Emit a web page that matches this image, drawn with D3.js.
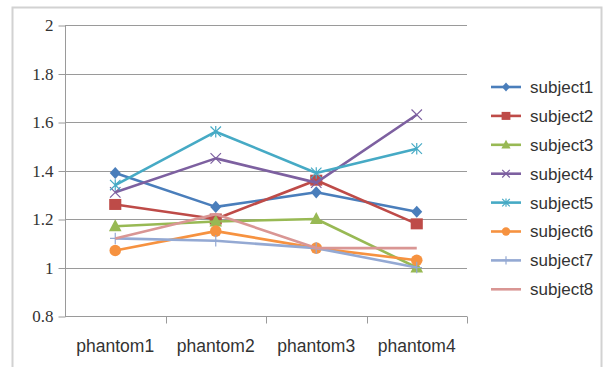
<!DOCTYPE html>
<html>
<head>
<meta charset="utf-8">
<script src="https://cdn.jsdelivr.net/npm/d3@7"></script>
<style>
  html, body { margin: 0; padding: 0; background: #fff; }
  svg { display: block; }
</style>
</head>
<body>
<svg id="chart" width="605" height="367"></svg>
<script>
// Categories, series and tick labels
const categories = ["phantom1", "phantom2", "phantom3", "phantom4"];
const seriesNames = ["subject1", "subject2", "subject3", "subject4",
                     "subject5", "subject6", "subject7", "subject8"];
const subject1 = [1.39, 1.25, 1.31, 1.23];
const subject2 = [1.26, 1.20, 1.36, 1.18];
const subject3 = [1.17, 1.19, 1.20, 1.00];
const subject4 = [1.31, 1.45, 1.35, 1.63];
const subject5 = [1.34, 1.56, 1.39, 1.49];
const subject6 = [1.07, 1.15, 1.08, 1.03];
const subject7 = [1.12, 1.11, 1.08, 1.00];
const subject8 = [1.12, 1.22, 1.08, 1.08];
const yTicks = [0.8, 1, 1.2, 1.4, 1.6, 1.8, 2];

const seriesValues = [subject1, subject2, subject3, subject4,
                      subject5, subject6, subject7, subject8];
const lineColors = ["#4A7EBB", "#BE4B48", "#98B954", "#7D60A0",
                    "#46AAC5", "#F69240", "#94A9D3", "#D99694"];
const markerKinds = ["diamond", "square", "triangle", "cross",
                     "star", "circle", "plus", "none"];

const svg = d3.select("#chart");

// Outer chart frame
svg.append("rect")
  .attr("x", 12.5).attr("y", 7.5)
  .attr("width", 589).attr("height", 380)
  .attr("fill", "#fff")
  .attr("stroke", "#d2d2d2").attr("stroke-width", 2);

const plot = { left: 65, right: 467, top: 25, bottom: 316 };

const x = d3.scaleBand().domain(categories).range([plot.left, plot.right]);
const y = d3.scaleLinear().domain([0.8, 2]).range([plot.bottom, plot.top]);

// Horizontal gridlines
svg.append("g")
  .selectAll("line")
  .data(yTicks.filter(d => d > 0.8))
  .join("line")
  .attr("x1", plot.left).attr("x2", plot.right)
  .attr("y1", d => Math.round(y(d)) + 0.5).attr("y2", d => Math.round(y(d)) + 0.5)
  .attr("stroke", "#9a9a9a").attr("stroke-width", 1);

// Y axis with serif tick labels
const yAxis = svg.append("g")
  .attr("transform", `translate(${plot.left + 0.5},0.5)`)
  .call(d3.axisLeft(y).tickValues(yTicks).tickSize(7).tickPadding(5)
        .tickFormat(d3.format("~g")));
yAxis.attr("font-family", "'Liberation Serif', 'DejaVu Serif', serif")
     .attr("font-size", 17);
yAxis.selectAll("path, line").attr("stroke", "#9a9a9a");
yAxis.select(".domain").attr("d", `M0,${y(2)}V${y(0.8)}`);
yAxis.selectAll("text").attr("fill", "#333");

// X axis with ticks on the category boundaries
const xAxis = svg.append("g")
  .attr("transform", `translate(0,${plot.bottom + 0.5})`);
xAxis.append("line")
  .attr("x1", plot.left).attr("x2", plot.right)
  .attr("stroke", "#9a9a9a");
xAxis.selectAll("line.tick")
  .data(categories)
  .join("line")
  .attr("class", "tick")
  .attr("x1", d => Math.round(x(d) + x.bandwidth()) + 0.5)
  .attr("x2", d => Math.round(x(d) + x.bandwidth()) + 0.5)
  .attr("y1", 0).attr("y2", 7)
  .attr("stroke", "#9a9a9a");
xAxis.selectAll("text")
  .data(categories)
  .join("text")
  .attr("x", d => x(d) + x.bandwidth() / 2)
  .attr("y", 35)
  .attr("text-anchor", "middle")
  .style("font-family", "Arial, 'Liberation Sans', sans-serif")
  .style("font-size", "17.5px")
  .attr("fill", "#333")
  .text(d => d);

// Marker drawing; w is the marker's nominal width in pixels
function drawMarker(sel, kind, color, w) {
  const h = w / 2;
  if (kind === "diamond") {
    const p = d3.path();
    p.moveTo(0, -h * 1.1); p.lineTo(h, 0); p.lineTo(0, h * 1.1); p.lineTo(-h, 0); p.closePath();
    sel.append("path").attr("d", p.toString()).attr("fill", color);
  } else if (kind === "square") {
    sel.append("rect").attr("x", -h * 1.1).attr("y", -h)
      .attr("width", w * 1.1).attr("height", w).attr("fill", color);
  } else if (kind === "triangle") {
    const t = h * 1.15;
    const p = d3.path();
    p.moveTo(0, -t * 1.1); p.lineTo(t, t * 0.8); p.lineTo(-t, t * 0.8); p.closePath();
    sel.append("path").attr("d", p.toString()).attr("fill", color);
  } else if (kind === "circle") {
    sel.append("circle").attr("r", h * 1.05).attr("fill", color);
  } else if (kind === "cross" || kind === "star" || kind === "plus") {
    const r = h * 0.95;
    const p = d3.path();
    if (kind !== "plus") {
      p.moveTo(-r, -r); p.lineTo(r, r);
      p.moveTo(-r, r); p.lineTo(r, -r);
    }
    if (kind !== "cross") {
      p.moveTo(0, -r * 1.1); p.lineTo(0, r * 1.1);
    }
    if (kind === "plus") {
      p.moveTo(-r, 0); p.lineTo(r, 0);
    }
    sel.append("path").attr("d", p.toString())
      .attr("fill", "none").attr("stroke", color).attr("stroke-width", 1.2);
  }
}

const line = d3.line()
  .x((d, i) => x(categories[i]) + x.bandwidth() / 2)
  .y(d => y(d));

const seriesG = svg.append("g");
seriesValues.forEach((vals, k) => {
  const g = seriesG.append("g");
  g.append("path")
    .attr("d", line(vals))
    .attr("fill", "none")
    .attr("stroke", lineColors[k])
    .attr("stroke-width", 2.6)
    .attr("stroke-linejoin", "round");
  vals.forEach((v, i) => {
    const m = g.append("g")
      .attr("transform", `translate(${x(categories[i]) + x.bandwidth() / 2},${y(v)})`);
    drawMarker(m, markerKinds[k], lineColors[k], 11);
  });
});

// Legend
const legend = svg.append("g").attr("transform", "translate(491,87)");
const rowH = 28.9;
seriesNames.forEach((name, k) => {
  const row = legend.append("g").attr("transform", `translate(0,${k * rowH})`);
  row.append("line")
    .attr("x1", 0).attr("x2", 30)
    .attr("stroke", lineColors[k]).attr("stroke-width", 2.6);
  const m = row.append("g").attr("transform", "translate(15,0)");
  drawMarker(m, markerKinds[k], lineColors[k], 8);
  row.append("text")
    .attr("x", 39).attr("y", 0).attr("dy", "0.35em")
    .style("font-family", "Arial, 'Liberation Sans', sans-serif")
    .style("font-size", "17px")
    .attr("fill", "#333")
    .text(name);
});
</script>
</body>
</html>
